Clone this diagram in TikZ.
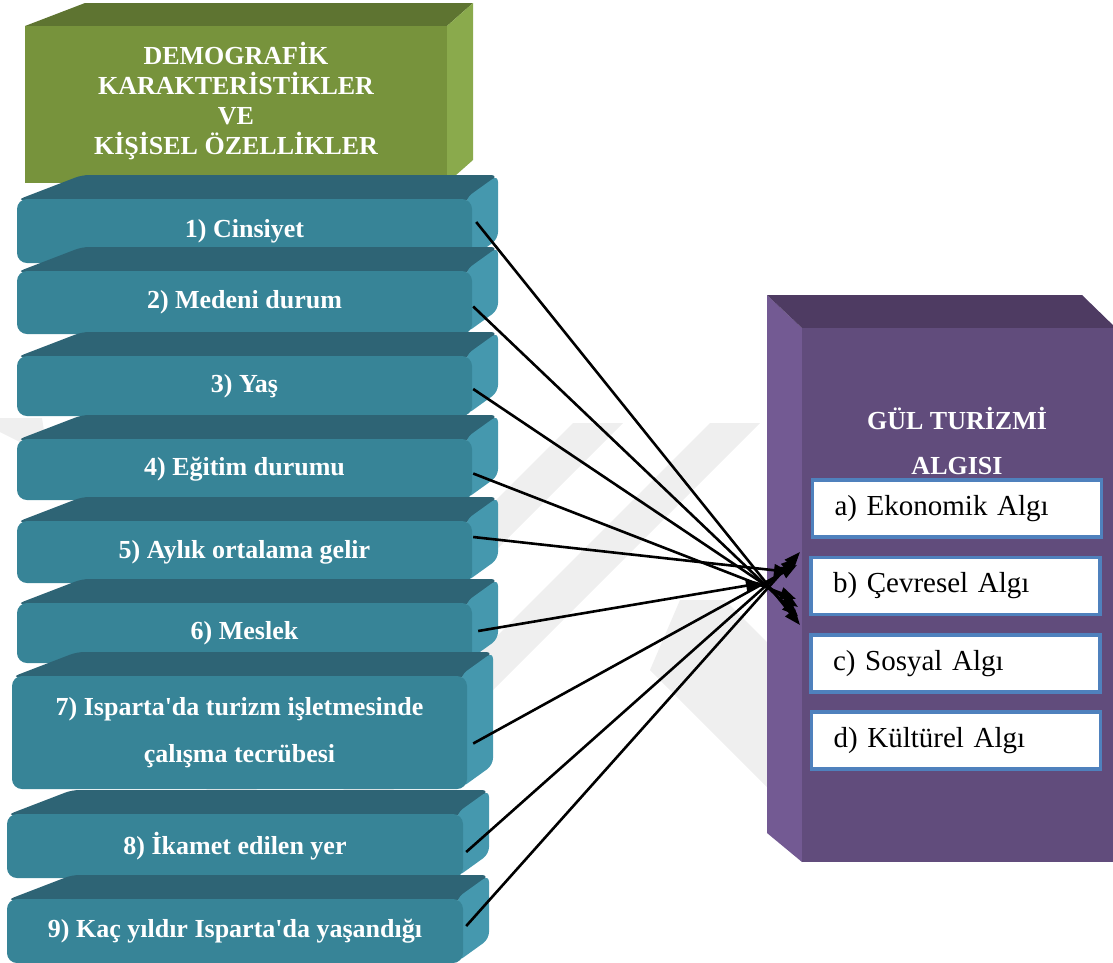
\documentclass[tikz,border=0pt]{standalone}
\usepackage{fontspec}
\setmainfont{Liberation Serif}
\usetikzlibrary{arrows.meta}
\definecolor{gfront}{HTML}{77933C}
\definecolor{gtop}{HTML}{5E7431}
\definecolor{gside}{HTML}{8AAA4C}
\definecolor{tfront}{HTML}{378497}
\definecolor{ttop}{HTML}{2E6475}
\definecolor{tside}{HTML}{4598AE}
\definecolor{pfront}{HTML}{614C7C}
\definecolor{ptop}{HTML}{4E3B62}
\definecolor{pside}{HTML}{735A93}
\definecolor{wborder}{HTML}{4F81BD}
\definecolor{wmark}{HTML}{EFEFEF}
\newcommand\TealBox[6]{%
  \fill[ttop, rounded corners=7pt] (#2,#4+2) -- (#2+65,#4-23) -- (#3+26,#4-23) -- (#3,#4+2) -- cycle;
  \fill[tside, rounded corners=7pt] (#3-6,#4) -- (#3+26,#4-23) -- (#3+26,#5-23) -- (#3-6,#5) -- cycle;
  \node[tealfront, minimum width={(#3-#2)*1pt}, minimum height={(#5-#4)*1pt}] (#1) at ({(#2+#3)/2},{(#4+#5)/2+1}) {#6};
}
\begin{document}
\begin{tikzpicture}[x=1pt,y=-1pt,
  tealfront/.style={fill=tfront, rounded corners=10pt, inner sep=0pt, text=white, align=center,
    font=\fontsize{26}{30}\selectfont\bfseries},
  headtext/.style={text=white, align=center, font=\fontsize{26}{30}\selectfont\bfseries},
  wbox/.style={draw=wborder, line width=3.5pt, fill=white, minimum width=289pt, minimum height=57pt,
    text width=245pt, align=left, inner xsep=22pt, inner ysep=0pt, font=\fontsize{29}{33}\selectfont},
  arr/.style={line width=2.6pt, -{Triangle[length=16pt,width=12pt]}}]
\useasboundingbox (0,0) rectangle (1113,962);
\clip (0,0) rectangle (1113,962);
% watermark
\fill[wmark] (573,423) -- (623,423) -- (256,790) -- (206,790) -- cycle;
\fill[wmark] (710,423) -- (760,423) -- (393,790) -- (343,790) -- cycle;
\fill[wmark] (680,600) -- (725,600) -- (800,675) -- (800,790) -- (770,790) -- (650,670) -- cycle;
\fill[wmark] (0,418) -- (42,418) -- (48,456) -- (0,432) -- cycle;
% green header box
\fill[gtop] (25,26) -- (85,3) -- (473,3) -- (447,26) -- cycle;
\fill[gside] (447,26) -- (473,3) -- (473,160) -- (447,183) -- cycle;
\node[fill=gfront, minimum width=422pt, minimum height=157pt, anchor=north west, inner sep=0pt] (head) at (25,26) {};
\node[headtext] (headtxt) at (236,101) {DEMOGRAFİK\\KARAKTERİSTİKLER\\VE\\KİŞİSEL ÖZELLİKLER};
% teal boxes
\TealBox{n1}{17}{472}{198}{262}{1) Cinsiyet}
\TealBox{n2}{17}{472}{270}{333}{2) Medeni durum}
\TealBox{n3}{17}{472}{355}{415}{3) Yaş}
\TealBox{n4}{17}{472}{438}{499}{4) Eğitim durumu}
\TealBox{n5}{17}{472}{520}{582}{5) Aylık ortalama gelir}
\TealBox{n6}{17}{472}{602}{662}{6) Meslek}
\TealBox{n7}{12}{467}{675}{788}{7) Isparta\textquotesingle da turizm işletmesinde\\[17pt]çalışma tecrübesi}
\TealBox{n8}{7}{463}{813}{877}{8) İkamet edilen yer}
\TealBox{n9}{7}{463}{898}{962}{9) Kaç yıldır Isparta\textquotesingle da yaşandığı}
% purple box
\fill[pside] (767,295) -- (802,328) -- (802,862) -- (767,833) -- cycle;
\fill[ptop] (767,295) -- (1082,295) -- (1118,330) -- (802,328) -- cycle;
\node[fill=pfront, minimum width=320pt, minimum height=534pt, anchor=north west, inner sep=0pt] (pbox) at (802,328) {};
\node[headtext] (ptitle) at (957,441) {GÜL TURİZMİ\\[15pt]ALGISI};
\node[wbox] (wa) at (957,508.5) {a) Ekonomik Algı};
\node[wbox] (wb) at (955.5,586) {b) Çevresel Algı};
\node[wbox] (wc) at (955.5,663.5) {c) Sosyal Algı};
\node[wbox] (wd) at (956,740.5) {d) Kültürel Algı};
% arrow tips
\coordinate (t1) at (800,625);
\coordinate (t2) at (798,616);
\coordinate (t3) at (798,607);
\coordinate (t4) at (796,599);
\coordinate (t5) at (790,572);
\coordinate (t6) at (762,583);
\coordinate (t7) at (797,565);
\coordinate (t8) at (797,558);
\coordinate (t9) at (800,552);
\draw[arr] ([shift={(4,-9)}]n1.east) -- (t1);
\draw[arr] ([shift={(1,4)}]n2.east) -- (t2);
\draw[arr] ([shift={(1,3)}]n3.east) -- (t3);
\draw[arr] ([shift={(1,4)}]n4.east) -- (t4);
\draw[arr] ([shift={(1,-15)}]n5.east) -- (t5);
\draw[arr] ([shift={(6,-2)}]n6.east) -- (t6);
\draw[arr] ([shift={(6,11)}]n7.east) -- (t7);
\draw[arr] ([shift={(3,6)}]n8.east) -- (t8);
\draw[arr] ([shift={(3,-5)}]n9.east) -- (t9);
\end{tikzpicture}
\end{document}
